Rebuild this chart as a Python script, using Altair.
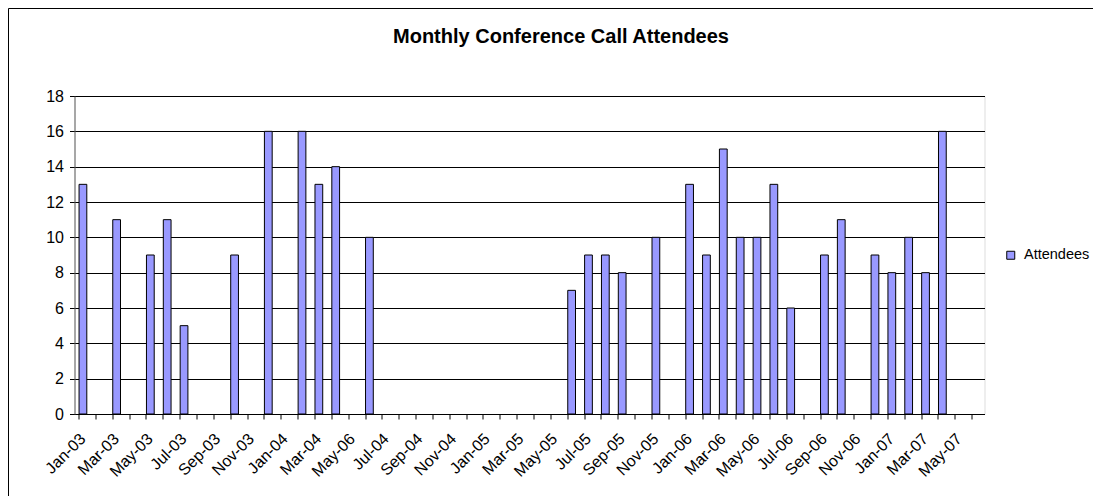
import altair as alt
import pandas as pd

# Category labels (as they appear in the source, including the "May-06" slip at position 17)
categories = [
    "Jan-03", "Feb-03", "Mar-03", "Apr-03", "May-03", "Jun-03", "Jul-03", "Aug-03",
    "Sep-03", "Oct-03", "Nov-03", "Dec-03", "Jan-04", "Feb-04", "Mar-04", "Apr-04",
    "May-06", "Jun-04", "Jul-04", "Aug-04", "Sep-04", "Oct-04", "Nov-04", "Dec-04",
    "Jan-05", "Feb-05", "Mar-05", "Apr-05", "May-05", "Jun-05", "Jul-05", "Aug-05",
    "Sep-05", "Oct-05", "Nov-05", "Dec-05", "Jan-06", "Feb-06", "Mar-06", "Apr-06",
    "May-06", "Jun-06", "Jul-06", "Aug-06", "Sep-06", "Oct-06", "Nov-06", "Dec-06",
    "Jan-07", "Feb-07", "Mar-07", "Apr-07", "May-07", "Jun-07",
]

# Attendees per category (None = no call that month)
attendees = [
    13, None, 11, None, 9, 11, 5, None,
    None, 9, None, 16, None, 16, 13, 14,
    None, 10, None, None, None, None, None, None,
    None, None, None, None, None, 7, 9, 9,
    8, None, 10, None, 13, 9, 15, 10,
    10, 13, 6, None, 9, 11, None, 9,
    8, 10, 8, 16, None, None,
]

series_name = "Attendees"
title_text = "Monthly Conference Call Attendees"
y_ticks = [0, 2, 4, 6, 8, 10, 12, 14, 16, 18]

df = pd.DataFrame({
    "idx": list(range(len(categories))),
    "value": attendees,
    "series": [series_name] * len(categories),
})

W, H = 910, 318
PAD_L, PAD_T, PAD_R, PAD_B = 66.5, 88, 108.5, 82
n = len(categories)
FONT = "Liberation Sans"

label_array = "[" + ",".join("'" + c + "'" for c in categories) + "]"
label_expr = f"datum.value % 2 == 0 ? {label_array}[datum.value] : ''"

bars = alt.Chart(df).mark_bar(stroke="black", strokeWidth=1).encode(
    x=alt.X(
        "idx:O",
        scale=alt.Scale(domain=list(range(n)), paddingInner=0.54, paddingOuter=0.27),
        axis=alt.Axis(
            title=None,
            bandPosition=0,
            labelOffset=0,
            labelExpr=label_expr,
            labelAngle=-45,
            labelAlign="right",
            labelBaseline="middle",
            labelFont=FONT,
            labelFontSize=16,
            labelColor="black",
            labelPadding=17,
            tickColor="black",
            tickSize=5,
            domainColor="black",
            grid=False,
        ),
    ),
    y=alt.Y(
        "value:Q",
        scale=alt.Scale(domain=[0, 18], nice=False),
        axis=alt.Axis(
            title=None,
            values=y_ticks,
            labelFont=FONT,
            labelFontSize=16,
            labelColor="black",
            labelPadding=6,
            tickColor="black",
            tickSize=5,
            domainColor="#606060",
            gridColor="black",
            gridWidth=1,
            gridOpacity=1,
        ),
    ),
    color=alt.Color(
        "series:N",
        scale=alt.Scale(range=["#9999FF"]),
        legend=alt.Legend(
            title=None,
            orient="none",
            legendX=929,
            legendY=152,
            padding=0,
            symbolType="square",
            symbolSize=64,
            symbolStrokeColor="black",
            symbolStrokeWidth=1,
            symbolOpacity=1,
            labelFont=FONT,
            labelFontSize=14.5,
            labelColor="black",
            labelOffset=6,
        ),
    ),
)

one = pd.DataFrame({"a": [0]})
frame_top = alt.Chart(one).mark_rule(stroke="black", strokeWidth=1).encode(
    x=alt.value(-PAD_L + 0.5),
    x2=alt.value(W + PAD_R),
    y=alt.value(-PAD_T + 0.5),
)
frame_left = alt.Chart(one).mark_rule(stroke="black", strokeWidth=1).encode(
    x=alt.value(-PAD_L + 0.5),
    y=alt.value(-PAD_T + 0.5),
    y2=alt.value(H + PAD_B),
)

title = alt.Chart(pd.DataFrame({"t": [title_text]})).mark_text(
    font=FONT, fontSize=20, fontWeight="bold", color="black",
    align="center", baseline="alphabetic",
).encode(
    text="t:N",
    x=alt.value(W / 2 + 31.5),
    y=alt.value(-53),
)

chart = alt.layer(bars, frame_top, frame_left, title).properties(
    width=W,
    height=H,
    autosize=alt.AutoSizeParams(type="none"),
    padding={"left": PAD_L, "top": PAD_T, "right": PAD_R, "bottom": PAD_B},
).configure_view(
    fill="#C0C0C0", stroke="#808080", strokeWidth=1
).configure(background="white")

chart.save("out.html", embed_options={"renderer": "svg", "actions": False})
